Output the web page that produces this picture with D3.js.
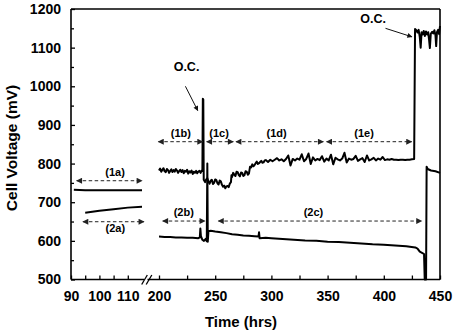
<!DOCTYPE html>
<html><head><meta charset="utf-8">
<script src="https://cdn.jsdelivr.net/npm/d3@7"></script>
<style>
body{margin:0;background:#fff}
svg{display:block;font-family:Arial,"Liberation Sans",sans-serif;font-weight:bold}
</style>
</head><body>
<svg id="c" width="454" height="332"></svg>
<script>
// ---- data ----
const yTickValues = [500,550,600,650,700,750,800,850,900,950,1000,1050,1100,1150,1200];
const xTicksEarly = [90,95,100,105,110];
const xTicksLate = [200,225,250,275,300,325,350,375,400,425,450];

// Cell 1 (upper trace)
const cell1Early = [[91,732],[95,731],[100,731],[105,731],[110,731],[115,731]];
const cell1Late = [
 [200,782],[201,787],[202,779],[203,784],[204,788],[205,780],[206,778],[207,786],[208,783],[209,776],
 [210,781],[211,785],[212,778],[213,783],[214,779],[215,786],[216,782],[217,776],[218,781],[219,784],
 [220,778],[221,783],[222,775],[223,781],[224,779],[225,784],[226,774],[227,780],[228,777],[229,782],
 [230,773],[231,779],[232,776],[233,781],[234,775],[235,779],[236,781],[237,776],[238,782],
 [238.6,781],[239,968],[239.4,966],[239.8,758],[241,752],[242,759],[243,762],[244,753],[245,748],[246,756],
 [247,758],[248,747],[249,750],[250,759],[251,757],[252,749],[253,746],[254,756],[255,754],[256,745],
 [257,740],[258,743],[259,736],[260,741],[261,742],[262,739],[263,748],[264,752],[264.5,770],[265,765],
 [266,776],[267,771],[268,768],[269,779],[270,778],[271,770],[272,767],[273,777],[274,776],[275,768],
 [276,770],[277,780],[278,779],[279,771],[280,774],[281,792],[282,790],[283,798],[284,793],[285,796],
 [286,801],[287,805],[288,799],[289,801],[290,804],[291,807],[292,802],[293,803],[294,808],[295,809],
 [297,804],[299,810],[301,806],[303,810],[305,814],[307,808],
 [309,811],[311,806],[313,812],[315,821],[317,795],[319,812],[321,808],[323,813],[325,810],[327,824],
 [329,806],[331,812],[333,826],[335,799],[337,816],[339,808],[341,812],[343,809],[345,819],[347,805],
 [349,813],[351,808],[353,823],[355,798],[357,815],[359,811],[361,808],[363,813],[365,828],[367,803],
 [369,813],[371,810],[373,812],[375,820],[377,807],[379,811],[381,814],[383,804],[385,821],[387,808],
 [389,811],[391,815],[393,808],[395,813],[397,810],[399,817],[401,809],[403,811],[405,810],[407,812],
 [409,810],[411,810],[413,809],[415,810],[417,810],[419,809],[421,810],[423,810],[425,811],[427,812],
 [427.8,1148],[429,1145],[430,1139],[431,1146],[432,1128],[432.8,1100],[433.6,1140],[434.5,1134],[435.5,1143],
 [436.5,1130],[437.5,1142],[438.5,1134],[439.5,1140],[440.3,1120],[441,1099],[441.8,1136],[443,1141],
 [444,1137],[445,1145],[446,1131],[446.6,1104],[447.3,1140],[448.3,1146],[449.2,1135],[450,1156]
];

// Cell 2 (lower trace)
const cell2Early = [[95,673],[100,678],[105,682],[110,686],[115,688]];
const cell2Late = [
 [200,611],[205,610],[210,610],[215,609],[220,609],[225,608],[230,608],[235,607],[236.3,609],[236.8,632],
 [237.3,612],[238.5,603],[240,600],[241.5,605],[242.5,599],[243,800],[243.4,598],[244,625],[246,626],
 [250,624],[255,622],[260,620],[265,617],[270,616],[275,614],[280,613],[285,612],[288.5,611],[289,622],
 [289.5,607],[295,608],[300,607],[310,605],[320,603],[330,601],[340,600],[350,598],[360,597],[370,595],
 [380,593],[390,591],[400,590],[410,588],[420,586],[428,583],[430,580],[432,572],[434,569],[435.8,566],
 [436.4,500],[437.6,500],[438.1,792],[439,786],[442,782],[446,780],[450,776]
];

// annotations: label, trace segment, start, end (hrs), level (mV), label position (hrs), label side
const spanLabels = ["(1a)","(2a)","(1b)","(1c)","(1d)","(1e)","(2b)","(2c)"];
const spanSegment = ["early","early","late","late","late","late","late","late"];
const spanStart = [92,94.2,199.4,242.4,268.5,349.1,203.3,252.8];
const spanEnd = [115,115.7,238.9,266.1,346.2,424.8,240.9,433.7];
const spanLevel = [755.6,649.5,856.6,856.6,856.6,856.6,651.3,651.3];
const spanLabelT = [105.5,105.6,219.5,253.5,304.7,382.4,222,337.4];
const spanLabelBelow = [false,true,false,false,false,false,false,false];

const ocLabels = ["O.C.","O.C."];
const ocTextT = [224.5,390.5];
const ocTextV = [1040,1165];
const ocArrowFrom = [[223.5,1000],[401.5,1150]];
const ocArrowTo = [[234.5,937],[425,1128]];

// ---- drawing ----
const svg = d3.select("#c");
const y = d3.scaleLinear([500,1200],[279.5,9]);
const xEarly = d3.scaleLinear([90,115],[71,142]);
const xLate = d3.scaleLinear([200,450],[159,440]);
const xOf = seg => seg === "early" ? xEarly : xLate;

const defs = svg.append("defs");
defs.append("marker").attr("id","ah").attr("viewBox","0 0 10 10").attr("refX",9).attr("refY",5)
  .attr("markerWidth",7).attr("markerHeight",6).attr("markerUnits","userSpaceOnUse")
  .attr("orient","auto-start-reverse")
  .append("path").attr("d","M0,0L10,5L0,10Z").attr("fill","#222");
defs.append("marker").attr("id","ah2").attr("viewBox","0 0 10 10").attr("refX",9).attr("refY",5)
  .attr("markerWidth",7).attr("markerHeight",5).attr("markerUnits","userSpaceOnUse")
  .attr("orient","auto")
  .append("path").attr("d","M0,0L10,5L0,10Z").attr("fill","#111");

// axes
const gy = svg.append("g").attr("transform","translate(71,0)")
  .call(d3.axisLeft(y).tickValues(yTickValues).tickSize(-4).tickPadding(10)
    .tickFormat(d => d % 100 === 0 ? d : ""));
gy.select(".domain").remove();
gy.selectAll(".tick line").attr("stroke","#000").attr("stroke-width",1.3)
  .attr("x2", d => d % 100 === 0 ? 4 : 3);
gy.selectAll("text").attr("font-size",14).attr("font-weight","bold").attr("fill","#000")
  .attr("font-family","Arial, 'Liberation Sans', sans-serif");

function xAxis(scale, ticks) {
  const g = svg.append("g").attr("transform","translate(0,279.5)")
    .call(d3.axisBottom(scale).tickValues(ticks).tickSize(-4).tickPadding(12)
      .tickFormat(d => (ticks === xTicksEarly ? d % 10 === 0 : d % 50 === 0) ? d : ""));
  g.select(".domain").remove();
  g.selectAll(".tick line").attr("stroke","#000").attr("stroke-width",1.3);
  g.selectAll("text").attr("font-size",14).attr("font-weight","bold").attr("fill","#000")
    .attr("font-family","Arial, 'Liberation Sans', sans-serif");
}
xAxis(xEarly, xTicksEarly);
xAxis(xLate, xTicksLate);

// frame
const frame = svg.append("g").attr("stroke","#000").attr("stroke-width",1.6).attr("fill","none");
frame.append("line").attr("x1",71).attr("x2",71).attr("y1",y(1200)).attr("y2",y(500));
frame.append("line").attr("x1",71).attr("x2",440).attr("y1",y(1200)).attr("y2",y(1200));
frame.append("line").attr("x1",440).attr("x2",440).attr("y1",y(1200)).attr("y2",y(500));
frame.append("line").attr("x1",71).attr("x2",440).attr("y1",y(500)).attr("y2",y(500));

// axis break
svg.append("rect").attr("x",144).attr("y",276).attr("width",3.5).attr("height",7).attr("fill","#fff");
[[141.7,284.5,147.3,275],[146.2,284.5,151.8,275]].forEach(s =>
  svg.append("line").attr("x1",s[0]).attr("y1",s[1]).attr("x2",s[2]).attr("y2",s[3])
    .attr("stroke","#000").attr("stroke-width",1.3));

// data traces
function trace(data, scale) {
  const line = d3.line().x(d => scale(d[0])).y(d => y(d[1]));
  svg.append("path").datum(data).attr("d",line).attr("fill","none")
    .attr("stroke","#000").attr("stroke-width",2).attr("stroke-linejoin","round");
}
trace(cell1Early, xEarly);
trace(cell2Early, xEarly);
trace(cell1Late, xLate);
trace(cell2Late, xLate);

// dashed span arrows
spanLabels.forEach((lab,i) => {
  const sx = xOf(spanSegment[i]);
  const yy = y(spanLevel[i]);
  svg.append("line").attr("x1",sx(spanStart[i])).attr("x2",sx(spanEnd[i]))
    .attr("y1",yy).attr("y2",yy).attr("stroke","#222").attr("stroke-width",1)
    .attr("stroke-dasharray","3.5,2.5")
    .attr("marker-start","url(#ah)").attr("marker-end","url(#ah)");
  svg.append("text").attr("x",sx(spanLabelT[i])).attr("y", spanLabelBelow[i] ? yy + 10.5 : yy - 5)
    .attr("text-anchor","middle").attr("font-size",11).attr("fill","#000").text(lab);
});

// O.C. annotations
ocLabels.forEach((lab,i) => {
  svg.append("text").attr("x",xLate(ocTextT[i])).attr("y",y(ocTextV[i]))
    .attr("text-anchor","middle").attr("font-size",12.5).attr("fill","#000").text(lab);
  svg.append("line").attr("x1",xLate(ocArrowFrom[i][0])).attr("y1",y(ocArrowFrom[i][1]))
    .attr("x2",xLate(ocArrowTo[i][0])).attr("y2",y(ocArrowTo[i][1]))
    .attr("stroke","#111").attr("stroke-width",1).attr("marker-end","url(#ah2)");
});

// axis titles
svg.append("text").attr("x",241).attr("y",327).attr("text-anchor","middle")
  .attr("font-size",15).attr("fill","#000").text("Time (hrs)");
svg.append("text").attr("transform","translate(17,148) rotate(-90)").attr("text-anchor","middle")
  .attr("font-size",15.5).attr("fill","#000").text("Cell Voltage (mV)");
</script>
</body></html>
